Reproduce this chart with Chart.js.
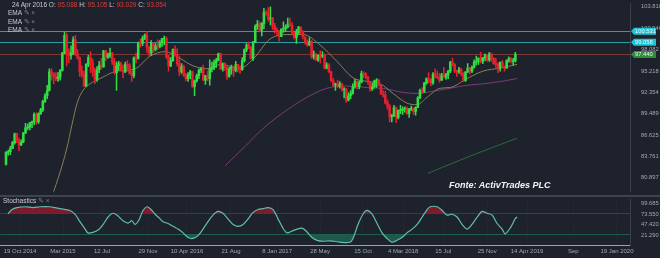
<!DOCTYPE html>
<html lang="pt">
<head>
<meta charset="UTF-8">
<script src="https://cdn.jsdelivr.net/npm/chart.js@4.4.1/dist/chart.umd.min.js"></script>
<title>USD Index semanal</title>
<style>
  body { margin: 0; background: #1e222d; width: 660px; height: 258px; overflow: hidden; font-family: "Liberation Sans", Arial, sans-serif; }
  canvas { position: absolute; left: 0; }
  #main { top: 0; }
  #stoch { top: 196px; }
  .sep { position: absolute; left: 0; top: 195px; width: 660px; height: 2px; background: #3f4350; }
  .lbl { position: absolute; font-size: 6.5px; line-height: 8px; color: #c9ccd3; white-space: nowrap; }
  .lbl b { font-weight: normal; color: #e53935; }
  .lbl i { font-style: normal; color: #80848e; }
  #fonte { position: absolute; left: 449px; top: 180px; font: italic bold 9px "Liberation Sans", Arial, sans-serif; color: #f2f2f2; }
</style>
</head>
<body>
<canvas id="main" width="660" height="195"></canvas>
<canvas id="stoch" width="660" height="62"></canvas>
<div class="sep"></div>
<div class="lbl" style="left:12px;top:1px">24 Apr 2016 O: <b>95.088</b> H: <b>95.105</b> L: <b>93.029</b> C: <b>93.054</b></div>
<div class="lbl" style="left:8px;top:9px">EMA <i>✎ ×</i></div>
<div class="lbl" style="left:8px;top:18px">EMA <i>✎ ×</i></div>
<div class="lbl" style="left:8px;top:26px">EMA <i>✎ ×</i></div>
<div class="lbl" style="left:3px;top:197px">Stochastics <i>✎ ×</i></div>
<div id="fonte">Fonte: ActivTrades PLC</div>
<script>
// weekly candles, Sep 2014 - Mar 2019
const opens = [
  82.7,84.3,84.4,84.8,85.6,86.8,85.9,85.3,85.7,86.9,
  87.6,87.7,88.3,88.4,89.4,88.4,89.5,90.0,91.1,91.9,
  92.6,95.1,94.8,94.5,94.2,94.4,95.3,97.6,100.0,97.8,
  97.3,97.6,99.4,97.5,97.0,95.2,94.7,93.2,96.1,97.0,
  96.3,95.2,94.1,95.4,96.0,95.8,97.9,97.1,97.3,97.6,
  96.5,95.0,95.9,96.2,95.3,95.1,96.1,96.0,94.9,94.6,
  97.0,96.9,99.0,98.9,99.6,100.0,98.4,97.6,99.0,98.1,
  98.6,98.5,99.0,99.5,99.6,97.1,95.9,96.6,98.1,97.4,
  96.2,95.1,95.8,94.6,94.2,94.7,95.1,93.1,93.9,94.6,
  95.3,95.5,94.0,94.6,94.2,95.5,95.7,96.3,96.6,97.5,
  95.5,96.2,95.7,94.5,95.5,95.8,95.3,96.1,95.5,95.4,
  96.6,98.1,98.7,98.3,96.9,99.1,101.2,101.5,100.7,101.6,
  103.1,103.0,102.2,102.3,101.2,100.7,100.6,99.8,100.8,100.9,
  101.1,101.5,101.3,100.3,99.7,100.4,101.1,100.5,99.8,99.1,
  98.7,99.2,97.1,97.4,96.7,97.3,97.2,97.3,95.6,96.0,
  95.1,93.9,93.3,93.5,93.1,93.5,92.7,92.8,91.3,91.9,
  92.2,93.1,93.8,93.1,93.7,94.9,94.8,94.4,93.7,92.8,
  93.1,93.9,94.0,93.3,92.1,92.0,91.0,90.5,89.1,89.2,
  90.3,89.0,89.9,90.0,90.1,90.2,89.5,90.1,90.2,89.8,
  90.3,91.6,92.6,92.5,93.6,94.2,94.1,93.6,94.8,94.5,
  94.4,94.0,94.7,94.4,94.7,95.2,96.4,96.1,95.2,95.1,
  95.4,94.9,93.9,95.1,95.6,95.2,95.7,96.4,96.5,96.9,
  96.5,97.0,97.3,96.7,97.5,96.9,96.2,96.1,95.6,96.4,
  95.8,95.6,96.6,96.9,96.5,96.6
];
const highs = [
  84.4,84.6,85.1,85.8,86.9,86.9,86.2,86.0,87.0,88.2,
  88.1,88.3,88.5,89.6,89.6,89.6,90.2,91.3,92.2,93.3,
  95.5,95.5,95.0,95.0,95.0,95.4,97.7,100.4,100.3,98.2,
  98.6,99.8,100.0,98.1,97.1,95.9,95.2,96.2,97.3,97.8,
  96.8,95.6,95.8,96.5,96.9,98.0,98.0,97.6,98.3,97.7,
  96.9,96.4,96.5,96.4,96.0,96.4,96.6,96.2,95.2,97.1,
  97.6,99.1,99.5,99.9,100.2,100.5,98.5,99.3,99.0,98.9,
  99.4,99.3,99.6,99.9,99.8,97.3,97.0,98.2,98.6,98.2,
  97.2,96.2,96.0,94.9,95.0,95.3,95.2,94.0,94.8,95.5,
  95.7,96.0,94.6,95.2,96.7,96.4,96.7,96.9,97.6,97.6,
  96.3,96.3,95.8,95.7,96.0,95.8,96.5,96.1,95.9,97.0,
  98.2,98.9,99.1,98.5,99.2,101.4,102.0,101.8,101.7,103.6,
  103.3,103.7,103.8,102.4,101.6,101.0,100.6,100.9,101.8,101.4,
  102.3,102.3,101.7,100.4,100.8,101.2,101.1,100.6,99.8,99.4,
  99.7,99.3,97.9,97.6,97.4,97.9,97.8,97.5,96.3,96.2,
  95.2,94.2,93.6,94.0,93.8,93.6,93.0,92.9,92.3,92.6,
  93.5,94.1,93.9,93.9,95.2,95.1,95.0,94.5,93.8,93.6,
  94.0,94.2,94.1,93.4,92.6,92.5,91.3,90.7,89.4,90.6,
  90.4,90.0,90.6,90.4,90.4,90.4,90.2,90.5,90.3,90.4,
  91.8,92.8,93.0,93.7,94.3,95.0,94.2,95.0,95.5,95.2,
  94.9,94.9,95.7,94.9,95.3,96.5,96.9,96.2,95.3,95.7,
  95.6,95.0,95.1,96.2,95.7,95.9,96.7,97.2,97.0,97.7,
  97.0,97.5,97.4,97.7,97.5,97.0,96.9,96.3,96.4,96.6,
  95.9,96.7,97.1,97.0,96.9,97.7
];
const lows = [
  82.6,83.9,84.0,84.8,85.4,85.6,84.5,85.2,85.6,86.8,
  87.3,87.3,87.6,88.0,88.1,88.2,89.4,89.8,91.0,91.5,
  92.5,94.0,93.5,93.9,93.8,94.0,95.2,97.5,95.9,96.3,
  96.8,97.4,97.3,96.8,94.5,94.4,93.1,93.1,95.8,95.0,
  94.5,93.5,93.8,95.0,95.5,95.7,96.6,96.9,97.0,96.1,
  94.8,92.6,95.3,95.2,94.3,95.0,95.2,94.8,93.8,94.3,
  96.3,96.8,98.4,98.6,99.4,97.7,97.2,97.3,97.7,97.9,
  98.1,98.3,98.5,98.7,96.9,95.2,95.8,96.5,97.2,95.9,
  94.6,94.9,94.5,93.9,93.8,94.2,93.0,91.9,93.7,94.2,
  95.0,93.9,93.4,93.9,93.3,95.1,95.4,95.7,96.6,95.4,
  95.2,95.3,94.1,94.4,94.8,94.5,95.1,95.1,94.9,95.3,
  96.4,97.8,98.2,96.8,96.6,99.0,100.8,100.5,99.9,100.9,
  102.7,101.9,101.4,100.8,100.3,99.9,99.2,99.8,100.4,100.5,
  101.0,101.2,100.0,99.5,98.9,100.1,100.2,99.5,98.8,98.5,
  98.6,96.9,96.8,96.6,96.5,96.3,97.0,95.5,95.5,95.0,
  93.8,93.1,92.6,93.0,92.9,92.5,91.6,91.0,91.2,91.5,
  92.1,92.9,92.8,92.8,93.6,94.3,94.2,93.4,92.5,92.6,
  92.9,93.0,93.2,92.1,91.7,90.8,90.1,88.4,88.4,89.1,
  88.3,88.8,89.5,89.4,89.7,89.4,89.0,89.9,89.4,89.3,
  90.3,91.5,92.2,92.3,93.4,93.6,93.2,93.4,94.3,94.2,
  93.7,93.9,94.3,94.1,94.2,95.0,95.9,95.0,94.5,94.9,
  94.6,93.8,93.8,95.0,94.8,95.0,95.6,96.0,96.1,96.3,
  96.2,96.6,96.5,96.5,96.5,96.1,95.7,95.0,95.2,95.7,
  95.2,95.6,96.4,96.3,96.0,96.4
];
const closes = [
  84.3,84.4,84.8,85.6,86.8,85.9,85.3,85.7,86.9,87.6,
  87.7,88.3,88.4,89.4,88.4,89.5,90.0,91.1,91.9,92.6,
  95.1,94.8,94.5,94.2,94.4,95.3,97.6,100.0,97.8,97.3,
  97.6,99.4,97.5,97.0,95.2,94.7,93.2,96.1,97.0,96.3,
  95.2,94.1,95.4,96.0,95.8,97.9,97.1,97.3,97.6,96.5,
  95.0,95.9,96.2,95.3,95.1,96.1,96.0,94.9,94.6,97.0,
  96.9,99.0,98.9,99.6,100.0,98.4,97.6,99.0,98.1,98.6,
  98.5,99.0,99.6,99.6,97.1,95.9,96.6,98.1,97.4,96.2,
  95.1,95.8,94.6,94.2,94.7,95.1,93.1,93.9,94.6,95.3,
  95.5,94.0,94.6,94.2,95.5,95.7,96.3,96.6,97.5,95.5,
  96.2,95.7,94.5,95.5,95.8,95.3,96.1,95.5,95.4,96.6,
  98.1,98.7,98.3,96.9,99.1,101.2,101.5,100.7,101.6,103.1,
  103.0,102.2,102.3,101.2,100.7,100.6,99.8,100.8,100.9,101.1,
  101.5,101.3,100.3,99.7,100.4,101.1,100.5,99.8,99.1,98.7,
  99.2,97.1,97.4,96.7,97.3,97.2,97.3,95.6,96.0,95.1,
  93.9,93.3,93.5,93.1,93.5,92.7,92.8,91.3,91.9,92.2,
  93.1,93.8,93.1,93.7,94.9,94.8,94.4,93.7,92.8,93.1,
  93.9,94.0,93.3,92.1,92.0,91.0,90.5,89.1,89.2,90.3,
  89.0,89.9,90.0,90.1,90.2,89.5,90.1,90.2,89.8,90.3,
  91.6,92.6,92.5,93.6,94.2,94.1,93.6,94.8,94.5,94.4,
  94.0,94.7,94.4,94.7,95.2,96.4,96.1,95.2,95.1,95.4,
  94.9,93.9,95.1,95.6,95.2,95.7,96.4,96.5,96.9,96.5,
  97.0,97.3,96.7,97.5,96.9,96.2,96.1,95.6,96.4,95.8,
  95.6,96.6,96.9,96.5,96.6,97.44
];

// EMA lines (week index, price)
const emaFastX = [21.2,24.9,28.1,30.5,32.8,35.5,38.8,43.4,51.2,59.5,66.5,73.4,80.3,86.3,94.1,98.8,108,114,121.8,129.7,137.1,144.9,152.7,160.1,164.7,172.6,178.6,185,189.7,194.3,200.3,204.9,212.7,220.1,228,235.8];
const emaFastY = [78.4,81.6,84.9,88.1,90.9,92.6,93.5,94.2,95.2,95.5,97.2,97.8,96.9,95.9,95.5,96.1,95.6,96.8,99.5,100.1,100.1,98.7,96.5,94.3,93.9,93.5,92.2,90.9,90.7,91.7,92.9,93.0,94.2,95.2,95.6,96.1];
const emaMidX = [101.1,110.3,118.6,129.7,138.9,148.1,156.4,166.6,175.8,181.8,189.7,197,204.9,212.7,220.1,228,235.8];
const emaMidY = [82.5,85.1,87.5,90.0,91.7,92.9,93.2,93.0,92.8,92.4,92.2,92.5,92.9,93.3,93.5,93.8,94.2];
const emaSlowX = [194.7,214.1,235.8];
const emaSlowY = [81.5,83.8,86.2];

// horizontal levels
const levels = [
  { value: 100.531, color: '#2a9fa3', tag: '#1fc3d6', text: '100.531' },
  { value: 99.058, color: '#2a9fa3', tag: '#1fc3d6', text: '99.058' },
  { value: 97.44, color: '#7a3a34', tag: '#2f8a3a', text: '97.440' }
];
const priceTicks = [80.897, 83.761, 86.625, 89.489, 92.354, 95.218, 98.082, 100.946, 103.810];

// stochastics (week index, %K)
const stochX = [0.9,2.8,5.1,8.8,12.5,15.7,20.3,22.6,24.9,29.5,31.8,34.1,36.5,37.8,40.1,42.5,44.8,47.1,49.4,51.7,54,56.3,58.1,59.5,61.4,63.2,65.1,66.9,68.8,71.1,72.4,74.8,77.1,79.4,81.7,84,86.3,88.6,90.9,93.2,95.5,97.8,100.1,102.4,104.8,107.1,109.4,111.7,114,116.3,118.6,120.9,123.2,125.5,127.8,129.7,132,134.3,136.6,138.9,141.2,143.5,146.3,149.5,154.1,158.7,160.1,162.4,164.7,166.6,168.9,171.2,173.5,175.8,178.1,180.4,182.7,185,187.4,189.7,192,194.3,195.7,198.9,201.2,203.5,205.8,208.1,210.4,212.7,215,217.4,219.7,222,224.3,226.6,228.9,230.3,232.6,234.9,235.8];
const stochK = [73.5,84.0,88.5,90.7,88.5,90.7,90.7,88.5,86.3,81.8,72.8,55.0,37.1,28.1,29.2,34.8,48.3,66.1,75.1,68.4,57.2,51.6,57.2,48.3,59.4,81.8,90.7,84.0,72.8,61.7,55.0,50.5,43.8,37.1,28.1,16.9,14.7,21.4,37.1,55.0,70.6,79.6,75.1,61.7,48.3,43.8,48.3,61.7,77.3,84.0,86.3,88.5,84.0,61.7,39.3,28.1,32.6,37.1,39.3,30.3,16.9,10.2,8.0,9.1,5.7,5.7,14.7,48.3,72.8,81.8,72.8,50.5,28.1,14.7,5.7,10.2,16.9,28.1,37.1,48.3,66.1,84.0,90.7,90.7,81.8,70.6,72.8,66.1,48.3,37.1,48.3,66.1,79.6,75.1,70.6,50.5,37.1,25.9,39.3,61.7,66.1];
const stochUpper = 75;
const stochLower = 25;
const stochTicks = [21.290, 47.420, 73.550, 99.685];

// x axis labels (week index positions)
const dateTicks = [6.5, 26.3, 44.3, 65.5, 83.5, 103.8, 125.1, 144.9, 164.7, 183.2, 201.7, 222, 240.4, 261.7, 281.9];
const dateLabels = ['19 Oct 2014', 'Mar 2015', '12 Jul', '29 Nov', '10 Apr 2016', '21 Aug', '8 Jan 2017', '28 May', '15 Oct', '4 Mar 2018', '15 Jul', '25 Nov', '14 Apr 2019', 'Sep', '19 Jan 2020'];

const X_MIN = -2.77, X_MAX = 287.9;
const GREEN = '#33dd44', RED = '#e8202c';
const AXIS_TXT = '#a4a8b0';
const GRID = '#252935';
const TICK_FONT = { size: 5.8, family: '"Liberation Sans", Arial', lineHeight: 0.1 };

const candleColors = closes.map((c, i) => c >= opens[i] ? GREEN : RED);
const bodies = opens.map((o, i) => ({ x: i, y: [o, closes[i]] }));
const wicks = highs.map((h, i) => ({ x: i, y: [lows[i], h] }));
const pts = (xs, ys) => xs.map((x, i) => ({ x: x, y: ys[i] }));

const levelPlugin = {
  id: 'levels',
  beforeDatasetsDraw(chart) {
    const { ctx, chartArea, scales } = chart;
    ctx.save();
    levels.forEach(l => {
      const y = Math.round(scales.y.getPixelForValue(l.value)) + 0.5;
      ctx.strokeStyle = l.color;
      ctx.lineWidth = 1;
      ctx.beginPath(); ctx.moveTo(chartArea.left, y); ctx.lineTo(chartArea.right, y); ctx.stroke();
    });
    ctx.restore();
  },
  afterDraw(chart) {
    const { ctx, chartArea, scales } = chart;
    ctx.save();
    levels.forEach(l => {
      const y = scales.y.getPixelForValue(l.value);
      const x0 = chartArea.right + 1;
      ctx.fillStyle = l.tag;
      ctx.beginPath();
      ctx.moveTo(x0, y); ctx.lineTo(x0 + 3, y - 3.5); ctx.lineTo(x0 + 25, y - 3.5);
      ctx.lineTo(x0 + 25, y + 3.5); ctx.lineTo(x0 + 3, y + 3.5); ctx.closePath();
      ctx.fill();
      ctx.fillStyle = '#eef6f6';
      ctx.font = '5.8px "Liberation Sans", Arial';
      ctx.textBaseline = 'middle';
      ctx.fillText(l.text, x0 + 4, y + 0.5);
    });
    ctx.restore();
  }
};

const bandPlugin = {
  id: 'bands',
  beforeDatasetsDraw(chart) {
    const { ctx, chartArea, scales } = chart;
    ctx.save();
    [[stochUpper, '#7d2030'], [stochLower, '#1f5c48']].forEach(([v, c]) => {
      const y = Math.round(scales.y.getPixelForValue(v)) + 0.5;
      ctx.strokeStyle = c; ctx.lineWidth = 1;
      ctx.beginPath(); ctx.moveTo(chartArea.left, y); ctx.lineTo(chartArea.right, y); ctx.stroke();
    });
    ctx.restore();
  }
};

const common = {
  responsive: false, animation: false, devicePixelRatio: 1, events: [],
  layout: { padding: 0 },
  plugins: { legend: { display: false }, tooltip: { enabled: false } }
};
const rightAxis = (min, max, ticks) => ({
  position: 'right', min: min, max: max,
  afterFit: s => { s.width = 30; },
  afterBuildTicks: s => { s.ticks = ticks.map(v => ({ value: v })); },
  ticks: { color: AXIS_TXT, font: TICK_FONT, padding: 3, autoSkip: false, callback: v => v.toFixed(3) },
  grid: { display: false },
  border: { color: '#3a3e4a' }
});

new Chart(document.getElementById('main'), {
  type: 'bar',
  data: {
    datasets: [
      { data: bodies, backgroundColor: candleColors, barThickness: 1.9, grouped: false },
      { data: wicks, backgroundColor: candleColors, barThickness: 0.9, grouped: false },
      { type: 'line', data: pts(emaFastX, emaFastY), borderColor: '#8a7e57', borderWidth: 1, pointRadius: 0, cubicInterpolationMode: 'monotone' },
      { type: 'line', data: pts(emaMidX, emaMidY), borderColor: '#7c3b78', borderWidth: 1, pointRadius: 0, cubicInterpolationMode: 'monotone' },
      { type: 'line', data: pts(emaSlowX, emaSlowY), borderColor: '#2e6b3b', borderWidth: 1, pointRadius: 0, cubicInterpolationMode: 'monotone' }
    ]
  },
  options: Object.assign({}, common, {
    scales: {
      x: { type: 'linear', min: X_MIN, max: X_MAX, offset: false, display: false },
      y: rightAxis(79.03, 104.29, priceTicks)
    }
  }),
  plugins: [levelPlugin]
});

new Chart(document.getElementById('stoch'), {
  type: 'line',
  data: {
    datasets: [
      { data: pts(stochX, stochK), borderColor: '#62bdae', borderWidth: 1.2, pointRadius: 0, tension: 0.3,
        fill: { target: { value: stochUpper }, above: 'rgba(140,26,44,0.85)', below: 'rgba(0,0,0,0)' } },
      { data: pts(stochX, stochK), borderWidth: 0, borderColor: 'rgba(0,0,0,0)', pointRadius: 0, tension: 0.3,
        fill: { target: { value: stochLower }, above: 'rgba(0,0,0,0)', below: 'rgba(30,100,80,0.85)' } }
    ]
  },
  options: Object.assign({}, common, {
    scales: {
      x: {
        type: 'linear', min: X_MIN, max: X_MAX, offset: false,
        afterFit: s => { s.height = 13; },
        afterBuildTicks: s => { s.ticks = dateTicks.map(v => ({ value: v })); },
        ticks: { color: AXIS_TXT, font: { size: 6, family: '"Liberation Sans", Arial' }, padding: 3, autoSkip: false, maxRotation: 0, callback: (v, i) => dateLabels[i] },
        grid: { color: GRID, drawTicks: false },
        border: { display: true, color: '#9ea2aa', dash: [3, 2] }
      },
      y: rightAxis(-1.0, 108.6, stochTicks)
    }
  }),
  plugins: [bandPlugin]
});
</script>
</body>
</html>
